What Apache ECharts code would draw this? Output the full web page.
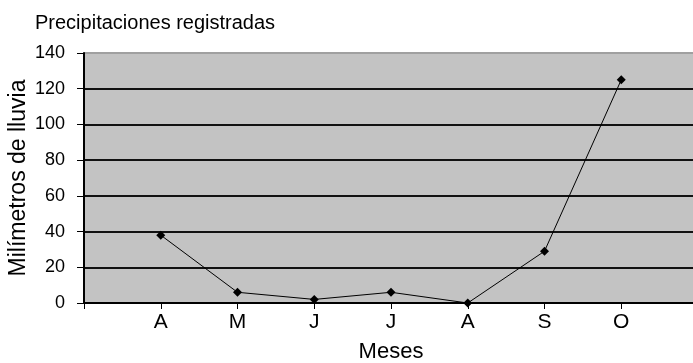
<!DOCTYPE html>
<html>
<head>
<meta charset="utf-8">
<script src="https://cdn.jsdelivr.net/npm/echarts@6/dist/echarts.min.js"></script>
<style>
  html, body { margin: 0; padding: 0; background: #ffffff; overflow: hidden; }
  /* the plot runs slightly past the right edge of the window */
  #chart { width: 698px; height: 363px; }
</style>
</head>
<body>
<div id="chart"></div>
<script>
// Monthly rainfall, April to October
const months = ['A', 'M', 'J', 'J', 'A', 'S', 'O'];
const rainfall = [38, 6, 2, 6, 0, 29, 125];
const yTicks = [0, 20, 40, 60, 80, 100, 120, 140];

// One blank slot on each side so the months sit inside the plot
const categories = [''].concat(months, ['']);
const seriesData = [null].concat(rainfall, [null]);

const FONT = "'Liberation Sans', Arial, sans-serif";

const chart = echarts.init(document.getElementById('chart'), null, { renderer: 'canvas' });
chart.setOption({
  animation: false,
  backgroundColor: '#ffffff',
  title: {
    text: 'Precipitaciones registradas',
    left: 30,
    top: 8,
    textStyle: { fontFamily: FONT, fontSize: 20, fontWeight: 'normal', color: '#000' }
  },
  grid: {
    left: 84,
    top: 53,
    right: 0,
    bottom: 60,
    containLabel: false,
    outerBoundsMode: 'none',
    show: true,
    backgroundColor: '#c3c3c3',
    borderWidth: 0
  },
  xAxis: {
    type: 'category',
    data: categories,
    boundaryGap: false,
    name: 'Meses',
    nameLocation: 'middle',
    nameGap: 38,
    nameMoveOverlap: false,
    nameTextStyle: { fontFamily: FONT, fontSize: 22, color: '#000' },
    axisLine: { lineStyle: { color: '#000', width: 2 } },
    axisTick: { interval: 0, length: 6, lineStyle: { color: '#000', width: 1 } },
    axisLabel: { interval: 0, margin: 9, fontFamily: FONT, fontSize: 21, color: '#000' },
    splitLine: { show: false }
  },
  yAxis: {
    type: 'value',
    min: yTicks[0],
    max: yTicks[yTicks.length - 1],
    interval: yTicks[1] - yTicks[0],
    name: 'Milímetros de lluvia',
    nameLocation: 'middle',
    nameGap: 54,
    nameMoveOverlap: false,
    nameTextStyle: { fontFamily: FONT, fontSize: 23, color: '#000' },
    axisLine: { show: true, lineStyle: { color: '#000', width: 2 } },
    axisTick: { show: true, length: 7, lineStyle: { color: '#000', width: 1 } },
    axisLabel: { margin: 19, fontFamily: FONT, fontSize: 18, color: '#000' },
    splitLine: {
      show: true,
      lineStyle: {
        color: ['#000', '#111', '#111', '#111', '#111', '#111', '#111', '#a0a0a0'],
        width: 2
      }
    }
  },
  series: [{
    type: 'line',
    data: seriesData,
    symbol: 'diamond',
    symbolSize: 9,
    itemStyle: { color: '#000' },
    lineStyle: { color: '#000', width: 1 },
    connectNulls: false
  }]
});
</script>
</body>
</html>
